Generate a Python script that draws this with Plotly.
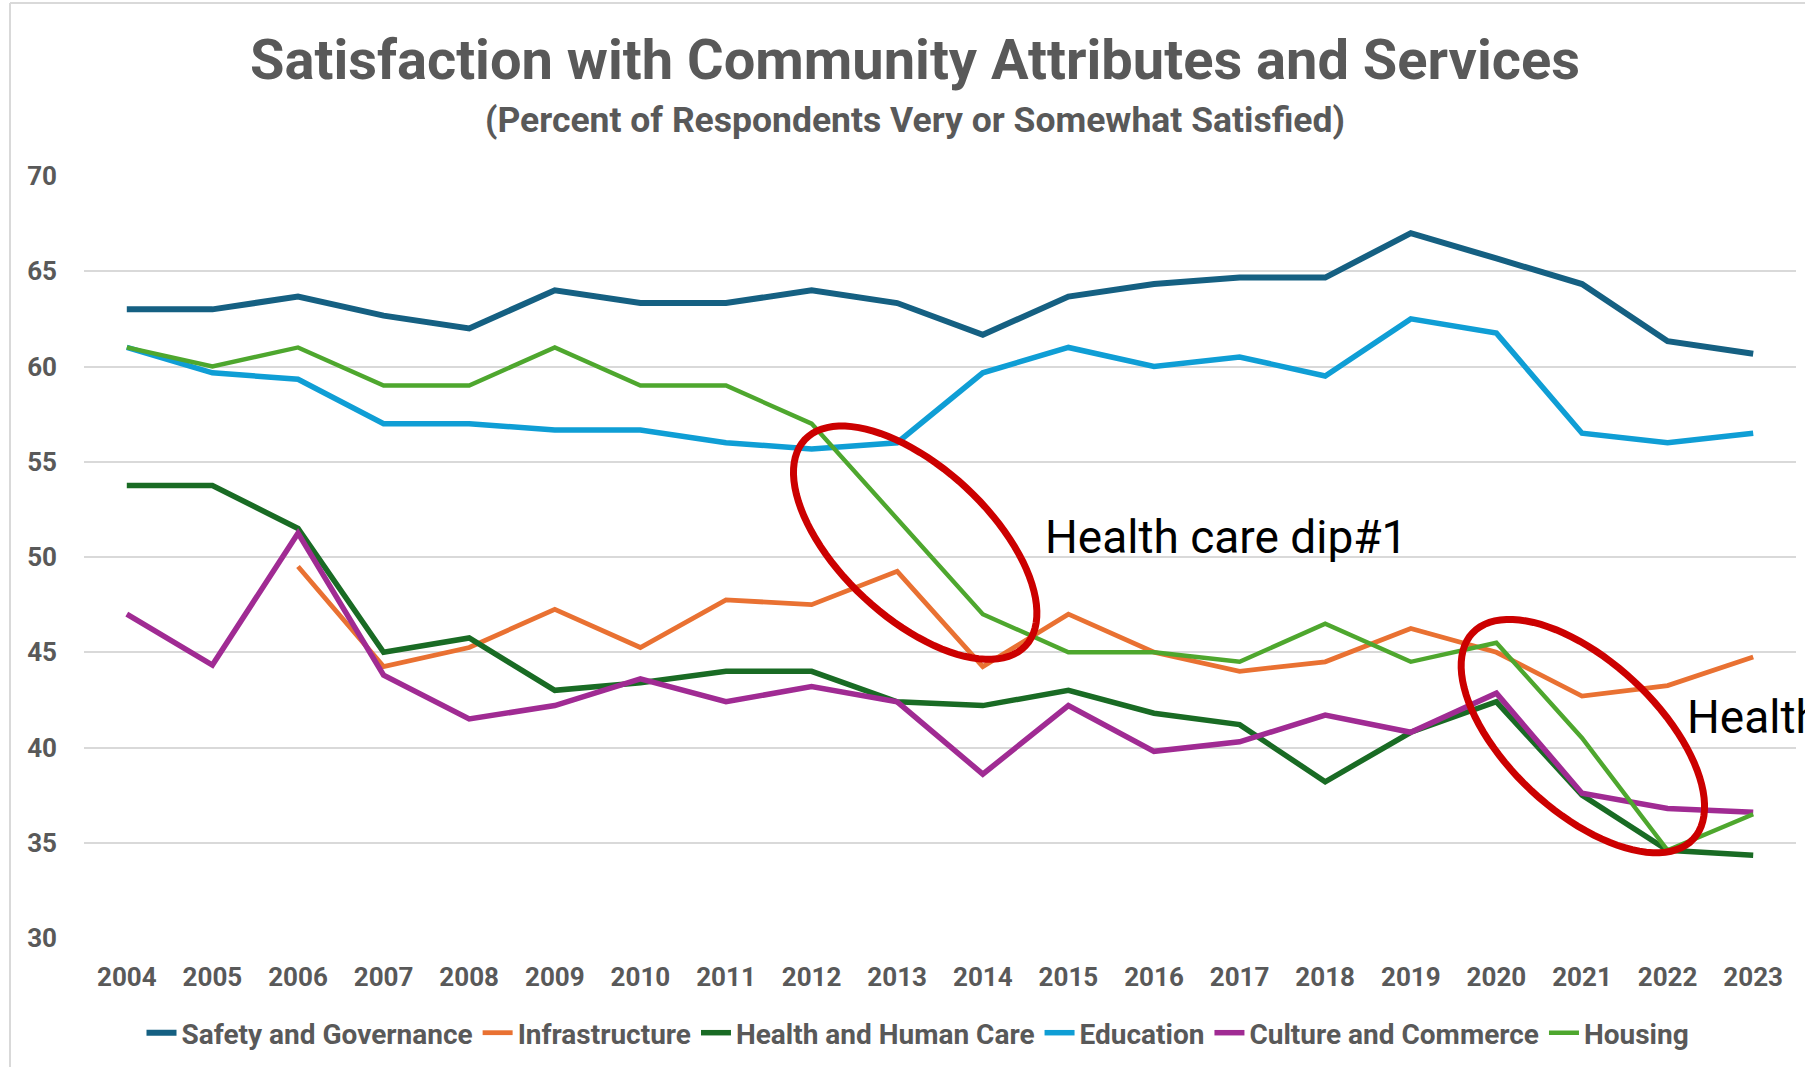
import math
import plotly.graph_objects as go

# ---------------- data ----------------
years = list(range(2004, 2024))
year_labels = [str(y) for y in years]

safety_governance = [63.0, 63.0, 63.67, 62.67, 62.0, 64.0, 63.33, 63.33, 64.0, 63.33,
                     61.67, 63.67, 64.33, 64.67, 64.67, 67.0, 65.67, 64.33, 61.33, 60.67]
infrastructure = [None, None, 49.5, 44.25, 45.25, 47.25, 45.25, 47.75, 47.5, 49.25,
                  44.25, 47.0, 45.0, 44.0, 44.5, 46.25, 45.0, 42.7, 43.25, 44.75]
health_human_care = [53.75, 53.75, 51.5, 45.0, 45.75, 43.0, 43.4, 44.0, 44.0, 42.4,
                     42.2, 43.0, 41.8, 41.2, 38.2, 40.8, 42.4, 37.5, 34.6, 34.35]
education = [61.0, 59.67, 59.33, 57.0, 57.0, 56.67, 56.67, 56.0, 55.67, 56.0,
             59.67, 61.0, 60.0, 60.5, 59.5, 62.5, 61.75, 56.5, 56.0, 56.5]
culture_commerce = [47.0, 44.33, 51.25, 43.8, 41.5, 42.2, 43.6, 42.4, 43.2, 42.4,
                    38.6, 42.2, 39.8, 40.3, 41.7, 40.8, 42.85, 37.6, 36.8, 36.6]
housing = [61.0, 60.0, 61.0, 59.0, 59.0, 61.0, 59.0, 59.0, 57.0, 52.0,
           47.0, 45.0, 45.0, 44.5, 46.5, 44.5, 45.5, 40.5, 34.6, 36.5]

series_names = ["Safety and Governance", "Infrastructure", "Health and Human Care",
                "Education", "Culture and Commerce", "Housing"]
series_values = [safety_governance, infrastructure, health_human_care,
                 education, culture_commerce, housing]
series_colors = ["#156082", "#E97132", "#196B24", "#0F9ED5", "#A02B93", "#4EA72E"]
series_widths = [6, 4.8, 5.5, 5.5, 5.5, 4.4]

y_ticks = [30, 35, 40, 45, 50, 55, 60, 65, 70]

title_text = "Satisfaction with Community Attributes and Services"
subtitle_text = "(Percent of Respondents Very or Somewhat Satisfied)"
callouts = [
    # text, left x (year), y centre (value), ellipse centre (year, value)
    ("Health care dip#1", 2014.70, 51.05, (2013.21, 50.75)),
    ("Health care dip#2", 2022.20, 41.6, (2021.01, 40.6)),
]

# ---------------- layout geometry ----------------
W, H = 1805, 1067
M_L, M_R, M_T, M_B = 84, 9, 176, 129
PLOT_W = W - M_L - M_R
PLOT_H = H - M_T - M_B
X_RANGE = [2003.5, 2023.5]
Y_RANGE = [30, 70]
px_per_x = PLOT_W / (X_RANGE[1] - X_RANGE[0])
px_per_y = PLOT_H / (Y_RANGE[1] - Y_RANGE[0])

GRAY = "#595959"
FONT = "Roboto, Liberation Sans, Arial, sans-serif"

fig = go.Figure()
for name, vals, col, wid in zip(series_names, series_values, series_colors, series_widths):
    fig.add_trace(go.Scatter(
        x=years, y=vals, name=name, mode="lines",
        line=dict(color=col, width=wid),
        connectgaps=False,
    ))


def ellipse_path(cx, cy, a_px=151, b_px=75, theta_deg=43, n=96):
    th = math.radians(theta_deg)
    pts = []
    for i in range(n):
        t = 2 * math.pi * i / n
        dx = a_px * math.cos(t) * math.cos(th) - b_px * math.sin(t) * math.sin(th)
        dy = a_px * math.cos(t) * math.sin(th) + b_px * math.sin(t) * math.cos(th)
        pts.append((cx + dx / px_per_x, cy - dy / px_per_y))
    return "M " + " L ".join(f"{x:.4f},{y:.4f}" for x, y in pts) + " Z"


shapes = []
annotations = []
for text, tx, ty, (ecx, ecy) in callouts:
    shapes.append(dict(type="path", xref="x", yref="y", path=ellipse_path(ecx, ecy),
                       line=dict(color="#CC0000", width=7), layer="above"))
    annotations.append(dict(text=text, x=tx, y=ty, xref="x", yref="y",
                            xanchor="left", yanchor="middle", showarrow=False,
                            font=dict(family=FONT, size=46, color="#000000")))


def px_to_paper_x(px):
    return (px - M_L) / PLOT_W


def px_to_paper_y(py):
    return (H - M_B - py) / PLOT_H


# chart-area frame (left and top edges visible)
shapes.append(dict(type="line", xref="paper", yref="paper",
                   x0=px_to_paper_x(10), x1=px_to_paper_x(10),
                   y0=px_to_paper_y(3), y1=px_to_paper_y(H + 5),
                   line=dict(color="#D9D9D9", width=2)))
shapes.append(dict(type="line", xref="paper", yref="paper",
                   x0=px_to_paper_x(10), x1=px_to_paper_x(W + 5),
                   y0=px_to_paper_y(3), y1=px_to_paper_y(3),
                   line=dict(color="#D9D9D9", width=2)))

annotations.append(dict(text=title_text, x=px_to_paper_x(915), y=px_to_paper_y(60),
                        xref="paper", yref="paper", xanchor="center", yanchor="middle",
                        showarrow=False,
                        font=dict(family=FONT, size=56, color=GRAY, weight="bold")))
annotations.append(dict(text=subtitle_text, x=px_to_paper_x(915), y=px_to_paper_y(120),
                        xref="paper", yref="paper", xanchor="center", yanchor="middle",
                        showarrow=False,
                        font=dict(family=FONT, size=35.5, color=GRAY, weight="bold")))

fig.update_layout(
    width=W, height=H,
    margin=dict(l=M_L, r=M_R, t=M_T, b=M_B, pad=0),
    paper_bgcolor="white", plot_bgcolor="white",
    font=dict(family=FONT, color=GRAY),
    showlegend=True,
    legend=dict(orientation="h", x=px_to_paper_x(918), xanchor="center",
                y=px_to_paper_y(1033), yanchor="middle",
                font=dict(family=FONT, size=28, color=GRAY, weight="bold"),
                bgcolor="rgba(0,0,0,0)", itemwidth=30, tracegroupgap=0),
    xaxis=dict(range=X_RANGE, tickmode="array", tickvals=years, ticktext=year_labels,
               showgrid=False, zeroline=False, showline=False, ticks="",
               tickfont=dict(family=FONT, size=26, color=GRAY, weight="bold"),
               ticklabelstandoff=21, automargin=False, fixedrange=True),
    yaxis=dict(range=Y_RANGE, tickmode="array", tickvals=y_ticks,
               showgrid=True, gridcolor="#D9D9D9", gridwidth=1.5,
               zeroline=False, showline=False, ticks="",
               tickfont=dict(family=FONT, size=26, color=GRAY, weight="bold"),
               ticklabelstandoff=26, automargin=False, fixedrange=True),
    shapes=shapes,
    annotations=annotations,
)

fig.write_html("out.html", config={"displayModeBar": False},
               post_script="document.body.style.margin='0';document.body.style.overflow='hidden';")
